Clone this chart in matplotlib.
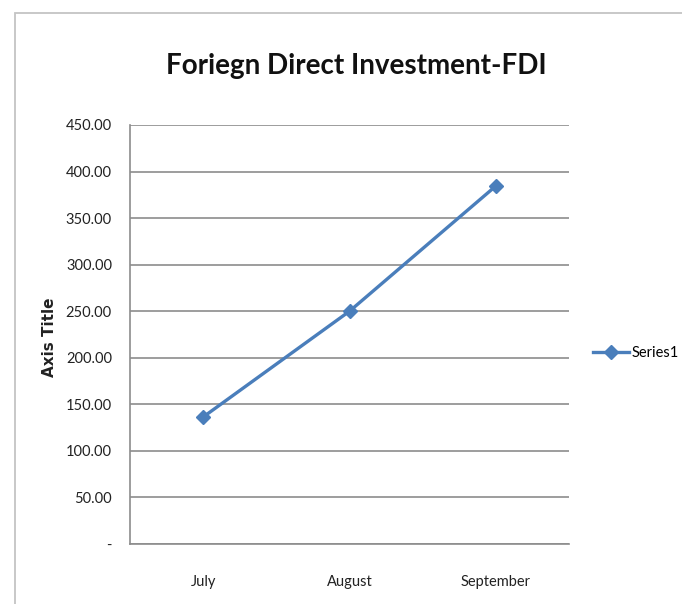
import matplotlib
matplotlib.use("Agg")
import matplotlib.pyplot as plt
from matplotlib.patches import Rectangle

categories = ["July", "August", "September"]
series1 = [136.4, 250.0, 384.5]
yticks = [0, 50, 100, 150, 200, 250, 300, 350, 400, 450]
ytick_labels = ["-", "50.00", "100.00", "150.00", "200.00", "250.00",
                "300.00", "350.00", "400.00", "450.00"]
title = "Foriegn Direct Investment-FDI"
ylabel = "Axis Title"
series_name = "Series1"

W, H = 682, 604
fig = plt.figure(figsize=(W / 100, H / 100), dpi=100)
fig.patch.set_facecolor("white")

# outer chart frame
fig.patches.append(Rectangle((15 / W, -0.1), 1.2, 1 - 13 / H + 0.1,
                             transform=fig.transFigure, fill=False,
                             edgecolor="#c4c4c4", linewidth=1.3))

ax = fig.add_axes([130 / W, 1 - 544 / H, (569 - 130) / W, (544 - 125) / H])
x = list(range(len(categories)))
line_color = "#4a7ebb"
ax.plot(x, series1, color=line_color, linewidth=2.4, marker="D",
        markersize=7, markerfacecolor=line_color, markeredgecolor=line_color,
        label=series_name, zorder=3)

ax.set_xlim(-0.5, len(categories) - 0.5)
ax.set_ylim(0, 450)
ax.set_yticks(yticks)
ax.set_yticklabels(ytick_labels)
ax.set_xticks(x)
ax.set_xticklabels(categories)
ax.yaxis.grid(True, color="#8c8c8c", linewidth=1.2)
ax.set_axisbelow(True)
for s in ["top", "right"]:
    ax.spines[s].set_visible(False)
for s in ["left", "bottom"]:
    ax.spines[s].set_color("#8c8c8c")
    ax.spines[s].set_linewidth(1.2)
ax.tick_params(axis="both", length=0, labelsize=10.5, labelcolor="#222222")
ax.tick_params(axis="y", pad=13)
ax.tick_params(axis="x", pad=22)
for lab in ax.get_xticklabels() + ax.get_yticklabels():
    lab.set_fontfamily("Lato")

ax.set_ylabel(ylabel, fontsize=11, fontweight="bold", family="DejaVu Sans",
              color="#222222")
ax.yaxis.set_label_coords(57 / W, 1 - 337 / H, transform=fig.transFigure)

fig.text(356 / W, 1 - 66 / H, title, ha="center", va="center",
         fontsize=20, fontweight="bold", family="Lato", color="#111111")

ax.legend(loc="center left", bbox_to_anchor=(593 / W, 1 - 353 / H),
          bbox_transform=fig.transFigure, frameon=False, borderpad=0,
          borderaxespad=0, handletextpad=0.15, handlelength=2.5,
          prop={"family": "Lato", "size": 10.5})

fig.savefig("out.png", dpi=100, facecolor="white")
